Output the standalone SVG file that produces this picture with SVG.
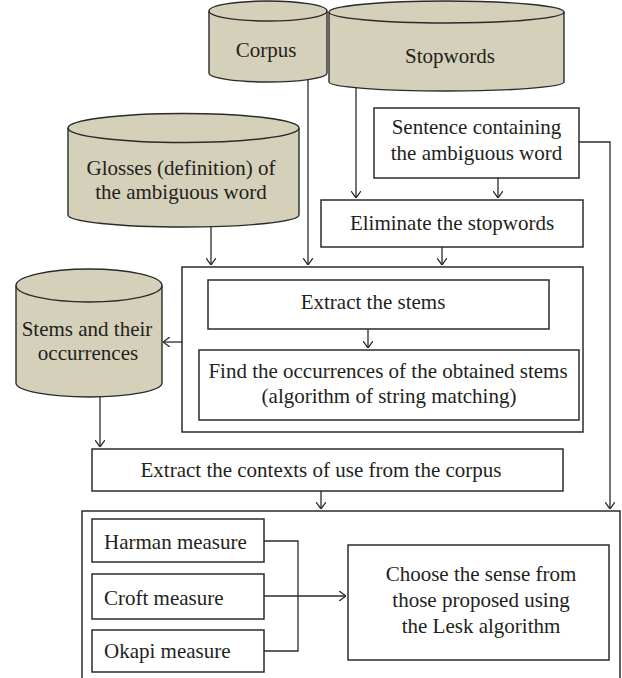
<svg xmlns="http://www.w3.org/2000/svg" width="622" height="678" viewBox="0 0 622 678">
<defs>
<style>
.db{fill:#d4d0b9;stroke:#2b2b2b;stroke-width:1.4}
.rim{fill:none;stroke:#2b2b2b;stroke-width:1.4}
.box{fill:#fff;stroke:#2b2b2b;stroke-width:1.5}
.ln{fill:none;stroke:#2b2b2b;stroke-width:1.3}
.ar{marker-end:url(#arr)}
text{font-family:"Liberation Serif","Times New Roman",serif;font-size:21px;fill:#231f20}
.c{text-anchor:middle}
</style>
<marker id="arr" viewBox="0 0 7 10" refX="7" refY="5" markerWidth="7" markerHeight="10" markerUnits="userSpaceOnUse" orient="auto">
<path d="M0,0 L7,5 L0,10" fill="none" stroke="#2b2b2b" stroke-width="1.3"/>
</marker>
</defs>
<rect width="622" height="678" fill="#fff"/>

<g id="corpus">
<path class="db" d="M209,11 L209,73 A59,9 0 0 0 327,73 L327,11 A59,10 0 0 0 209,11 Z"/>
<path class="rim" d="M209,11 A59,10 0 0 0 327,11"/>
<text class="c" x="266" y="57">Corpus</text>
</g>

<g id="stopwords">
<path class="db" d="M329,12 L329,82 A117.5,9 0 0 0 564,82 L564,12 A117.5,11 0 0 0 329,12 Z"/>
<path class="rim" d="M329,12 A117.5,11 0 0 0 564,12"/>
<text class="c" x="450" y="63">Stopwords</text>
</g>

<g id="glosses">
<path class="db" d="M68,128 L68,215 A115.5,12 0 0 0 299,215 L299,128 A115.5,14.5 0 0 0 68,128 Z"/>
<path class="rim" d="M68,128 A115.5,14.5 0 0 0 299,128"/>
<text class="c" x="181" y="175">Glosses (definition) of</text>
<text class="c" x="181" y="199">the ambiguous word</text>
</g>

<g id="sentence">
<rect class="box" x="374" y="108" width="205" height="70"/>
<text class="c" x="476.5" y="134">Sentence containing</text>
<text class="c" x="476.5" y="160">the ambiguous word</text>
</g>

<g id="eliminate">
<rect class="box" x="321" y="200" width="262" height="47"/>
<text class="c" x="452" y="230">Eliminate the stopwords</text>
</g>

<g id="stem-group">
<rect class="box" x="182" y="267" width="401" height="165"/>
</g>

<g id="extract-stems">
<rect class="box" x="208" y="280" width="341" height="49"/>
<text class="c" x="373" y="309">Extract the stems</text>
</g>

<g id="find">
<rect class="box" x="199" y="350" width="380" height="70"/>
<text class="c" x="388" y="378">Find the occurrences of the obtained stems</text>
<text class="c" x="389" y="403">(algorithm of string matching)</text>
</g>

<g id="stems">
<path class="db" d="M16,285.5 L16,383 A73,14 0 0 0 162,383 L162,285.5 A73,16.5 0 0 0 16,285.5 Z"/>
<path class="rim" d="M16,285.5 A73,16.5 0 0 0 162,285.5"/>
<text class="c" x="87" y="336">Stems and their</text>
<text class="c" x="88" y="360">occurrences</text>
</g>

<g id="extract-contexts">
<rect class="box" x="92" y="449" width="471" height="42"/>
<text class="c" x="321" y="477">Extract the contexts of use from the corpus</text>
</g>

<g id="final-group">
<path class="box" d="M82,680 L82,511 L620,511 L620,680"/>
</g>

<g id="harman">
<rect class="box" x="92" y="519" width="172" height="43"/>
<text x="104" y="549">Harman measure</text>
</g>

<g id="croft">
<rect class="box" x="92" y="574" width="172" height="45"/>
<text x="104" y="605">Croft measure</text>
</g>

<g id="okapi">
<rect class="box" x="92" y="630" width="172" height="42"/>
<text x="104" y="658">Okapi measure</text>
</g>

<g id="choose">
<rect class="box" x="348" y="545" width="261" height="115"/>
<text class="c" x="481" y="581">Choose the sense from</text>
<text class="c" x="481" y="607">those proposed using</text>
<text class="c" x="481" y="633">the Lesk algorithm</text>
</g>

<g id="connectors">
<path class="ln ar" d="M308,79 L308,265"/>
<path class="ln ar" d="M356,87 L356,198"/>
<path class="ln ar" d="M498,178 L498,198"/>
<path class="ln ar" d="M211,226 L211,265"/>
<path class="ln ar" d="M442,247 L442,265"/>
<path class="ln ar" d="M368,329 L368,348"/>
<path class="ln ar" d="M182,342 L163,342"/>
<path class="ln ar" d="M100,396 L100,447"/>
<path class="ln ar" d="M321,491 L321,509"/>
<path class="ln ar" d="M579,142 L610,142 L610,509"/>
<path class="ln" d="M264,541 L298,541 L298,651 L264,651"/>
<path class="ln ar" d="M264,596 L346,596"/>
</g>
</svg>
